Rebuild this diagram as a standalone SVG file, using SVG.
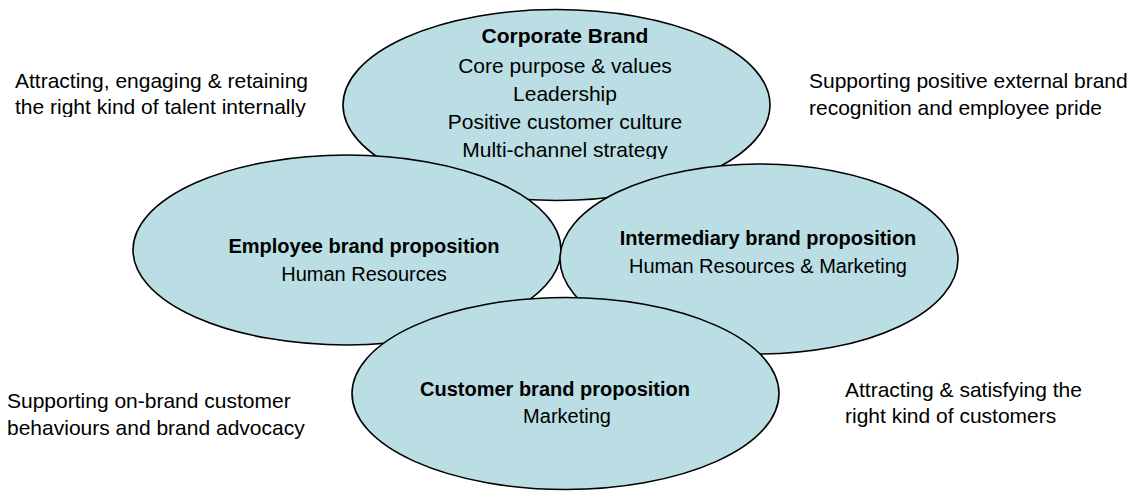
<svg xmlns="http://www.w3.org/2000/svg" width="1139" height="491" viewBox="0 0 1139 491">
<defs>
<style>
.el{fill:#BADEE3;stroke:#000;stroke-width:1.6}
.t{font-family:"Liberation Sans",Arial,sans-serif;fill:#000}
.c{text-anchor:middle}
.b{font-weight:bold}
.s20{font-size:20px}
.s21{font-size:21px}
</style>
<clipPath id="clipTop"><rect x="0" y="0" width="1139" height="159"/></clipPath>
<clipPath id="clipTL"><rect x="0" y="0" width="400" height="117"/></clipPath>
</defs>
<rect width="1139" height="491" fill="#fff"/>
<g id="notes">
<text class="t s21" x="15" y="88">Attracting, engaging &amp; retaining</text>
<text class="t s21" x="15" y="114" clip-path="url(#clipTL)">the right kind of talent internally</text>
<text class="t s21" x="809" y="88">Supporting positive external brand</text>
<text class="t s21" x="809" y="115">recognition and employee pride</text>
<text class="t s21" x="7" y="408">Supporting on-brand customer</text>
<text class="t s21" x="7" y="435">behaviours and brand advocacy</text>
<text class="t s21" x="845" y="397">Attracting &amp; satisfying the</text>
<text class="t s21" x="845" y="423">right kind of customers</text>
</g>
<g id="corporate">
<ellipse class="el" cx="556.5" cy="105" rx="213.5" ry="95.5"/>
<text class="t s21 c b" x="565" y="43">Corporate Brand</text>
<text class="t s21 c" x="565" y="73">Core purpose &amp; values</text>
<text class="t s21 c" x="565" y="101">Leadership</text>
<text class="t s21 c" x="565" y="129">Positive customer culture</text>
<text class="t s21 c" x="565" y="157" clip-path="url(#clipTop)">Multi-channel strategy</text>
</g>
<g id="employee">
<ellipse class="el" cx="347" cy="250" rx="214" ry="95"/>
<text class="t s20 c b" x="364" y="253">Employee brand proposition</text>
<text class="t s20 c" x="364" y="281">Human Resources</text>
</g>
<g id="intermediary">
<ellipse class="el" cx="759" cy="259" rx="199" ry="95"/>
<text class="t s20 c b" x="768" y="245">Intermediary brand proposition</text>
<text class="t s20 c" x="768" y="273">Human Resources &amp; Marketing</text>
</g>
<g id="customer">
<ellipse class="el" cx="565.5" cy="393.5" rx="213.5" ry="96"/>
<text class="t s20 c b" x="555" y="396">Customer brand proposition</text>
<text class="t s20 c" x="567" y="423">Marketing</text>
</g>
<g id="connectors"></g>
</svg>
